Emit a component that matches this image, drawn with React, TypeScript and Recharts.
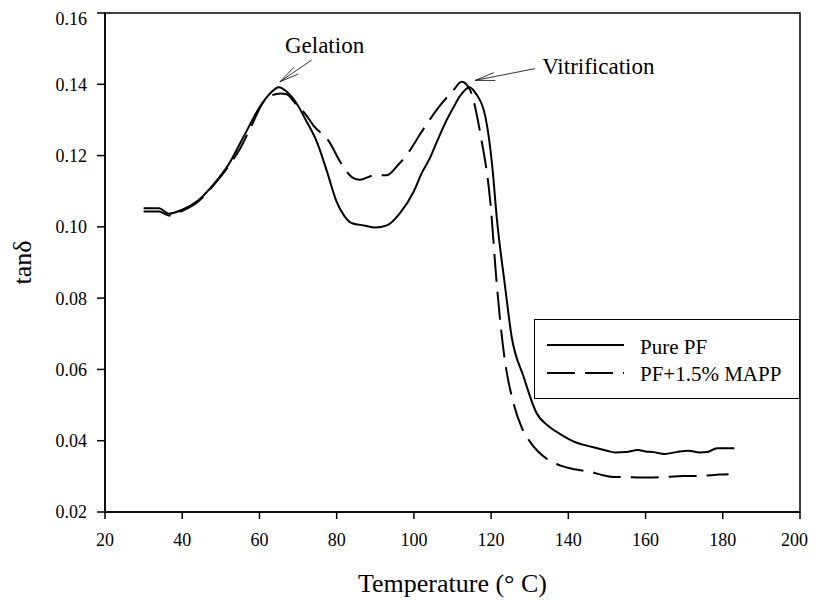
import React from 'react';
import { LineChart, Line, XAxis, YAxis, ReferenceArea, ReferenceLine, Legend } from 'recharts';

// Pure PF
const pureTemp = [30, 34, 36.5, 40, 44, 48, 52, 56, 60, 63, 65, 67, 70, 72, 75, 77.5, 80, 82, 84, 87, 90, 93, 96.5, 100, 102, 104, 106, 108.5, 110, 112, 114.4, 116, 118.5, 120.3, 121.5, 123.6, 125.3, 128.4, 131.8, 135, 138, 142, 146, 150, 152, 155, 158, 160, 162, 165, 168, 171, 174, 176, 178.5, 183];
const pureTan = [0.1052, 0.1052, 0.1037, 0.1048, 0.1073, 0.1118, 0.1175, 0.1255, 0.1335, 0.1377, 0.1392, 0.138, 0.134, 0.13, 0.1235, 0.1155, 0.107, 0.103, 0.101, 0.1004, 0.0998, 0.1004, 0.104, 0.11, 0.115, 0.119, 0.124, 0.13, 0.133, 0.1368, 0.1392, 0.1375, 0.131, 0.117, 0.1022, 0.0834, 0.0693, 0.058, 0.0477, 0.044, 0.0418, 0.0395, 0.0383, 0.0372, 0.0367, 0.0368, 0.0374, 0.037, 0.0368, 0.0363, 0.0368, 0.0372, 0.0367, 0.0368, 0.0379, 0.0379];

// PF + 1.5% MAPP
const mappTemp = [30, 34, 36.5, 40, 44, 48, 52, 55, 58, 61, 63, 65.5, 67, 69.7, 72, 74, 78, 81, 84, 86, 89.5, 93, 96, 98, 102.5, 106.8, 110, 112.4, 114.5, 117.3, 119.8, 121.5, 122.5, 123.5, 125.8, 128, 130, 135, 138, 142, 146, 149, 152, 155, 158.6, 162, 166, 169.8, 173, 176.7, 179, 181.5];
const mappTan = [0.1043, 0.1043, 0.1032, 0.1045, 0.107, 0.1115, 0.117, 0.122, 0.1285, 0.135, 0.1368, 0.1374, 0.1372, 0.1341, 0.1315, 0.1284, 0.124, 0.1181, 0.1139, 0.1132, 0.1144, 0.1145, 0.1175, 0.12, 0.1275, 0.1341, 0.138, 0.1407, 0.1385, 0.1256, 0.1069, 0.0834, 0.072, 0.063, 0.0505, 0.0435, 0.0398, 0.0345, 0.033, 0.0319, 0.0312, 0.0303, 0.0298, 0.0298, 0.0297, 0.0297, 0.0299, 0.0301, 0.0301, 0.0303, 0.0305, 0.0306];

const seriesNames = ['Pure PF', 'PF+1.5% MAPP'];
const seriesDash = ['', '28 10'];

const xTicks = [20, 40, 60, 80, 100, 120, 140, 160, 180, 200];
const yTicks = [0.02, 0.04, 0.06, 0.08, 0.1, 0.12, 0.14, 0.16];

// annotation arrows: [tail, tip] in data units
const notes = [
  { text: 'Gelation', from: [73.5, 0.1468], to: [65.3, 0.1407], dx: 13, dy: -7, anchor: 'middle' },
  { text: 'Vitrification', from: [131.4, 0.1444], to: [115.9, 0.1411], dx: 7, dy: 5, anchor: 'start' },
];

const pureData = pureTemp.map((t, i) => ({ t, v: pureTan[i] }));
const mappData = mappTemp.map((t, i) => ({ t, v: mappTan[i] }));

const font = "'Liberation Serif', 'Times New Roman', serif";

const arrowShape = (note: any) => (p: any) => {
  const { x1, y1, x2, y2 } = p;
  const ang = Math.atan2(y1 - y2, x1 - x2);
  const len = 20;
  const spread = 0.2;
  const h1x = x2 + len * Math.cos(ang + spread);
  const h1y = y2 + len * Math.sin(ang + spread);
  const h2x = x2 + len * Math.cos(ang - spread);
  const h2y = y2 + len * Math.sin(ang - spread);
  return (
    <g>
      <line x1={x1} y1={y1} x2={x2} y2={y2} stroke="#000" strokeWidth={0.8} />
      <line x1={x2} y1={y2} x2={h1x} y2={h1y} stroke="#000" strokeWidth={0.8} />
      <line x1={x2} y1={y2} x2={h2x} y2={h2y} stroke="#000" strokeWidth={0.8} />
      <text x={x1 + note.dx} y={y1 + note.dy} textAnchor={note.anchor} fontFamily={font} fontSize={23} fill="#000">
        {note.text}
      </text>
    </g>
  );
};

const renderLegend = () => (
  <div style={{ border: '1px solid #000', width: 264, height: 78, background: '#fff' }}>
    <svg width={264} height={78} style={{ display: 'block' }}>
      {seriesNames.map((name, i) => (
        <g key={name}>
          <line x1={12} x2={89} y1={25 + i * 28} y2={25 + i * 28} stroke="#000" strokeWidth={2} strokeDasharray={seriesDash[i]} />
          <text x={105} y={34 + i * 27} fontFamily={font} fontSize={21} fill="#000">{name}</text>
        </g>
      ))}
    </svg>
  </div>
);

export default function App() {
  const tickStyle = { fontFamily: font, fontSize: 18, fill: '#000' };
  return (
    <LineChart width={800} height={592} margin={{ top: 5, right: 8, bottom: 0, left: 0 }}>
      <XAxis
        dataKey="t"
        type="number"
        domain={[20, 200]}
        ticks={xTicks}
        allowDataOverflow
        height={88}
        tick={tickStyle}
        tickSize={7}
        tickMargin={14}
        stroke="#000"
        strokeWidth={1.5}
        label={{ value: 'Temperature (° C)', position: 'insideBottom', offset: 8, style: { fontFamily: font, fontSize: 26, fill: '#000' } }}
      />
      <YAxis
        type="number"
        domain={[0.02, 0.16]}
        ticks={yTicks}
        allowDataOverflow
        width={97}
        tick={tickStyle}
        tickFormatter={(v: number) => v.toFixed(2)}
        tickSize={8}
        tickMargin={10}
        stroke="#000"
        strokeWidth={1.5}
        label={{ value: 'tanδ', angle: -90, position: 'insideLeft', offset: 14, style: { textAnchor: 'middle', fontFamily: font, fontSize: 26, fill: '#000' } }}
      />
      <ReferenceArea x1={20} x2={200} y1={0.02} y2={0.16} fill="none" stroke="#000" strokeWidth={1.5} />
      <Line data={pureData} dataKey="v" name={seriesNames[0]} type="monotone" stroke="#000" strokeWidth={2} dot={false} isAnimationActive={false} />
      <Line data={mappData} dataKey="v" name={seriesNames[1]} type="monotone" stroke="#000" strokeWidth={2} strokeDasharray={seriesDash[1]} dot={false} isAnimationActive={false} />
      {notes.map((n) => (
        <ReferenceLine
          key={n.text}
          segment={[{ x: n.from[0], y: n.from[1] }, { x: n.to[0], y: n.to[1] }]}
          shape={arrowShape(n)}
          ifOverflow="visible"
        />
      ))}
      <Legend
        content={renderLegend}
        layout="horizontal"
        verticalAlign="middle"
        align="center"
        wrapperStyle={{ left: 526, top: 311, width: 266 }}
      />
    </LineChart>
  );
}
